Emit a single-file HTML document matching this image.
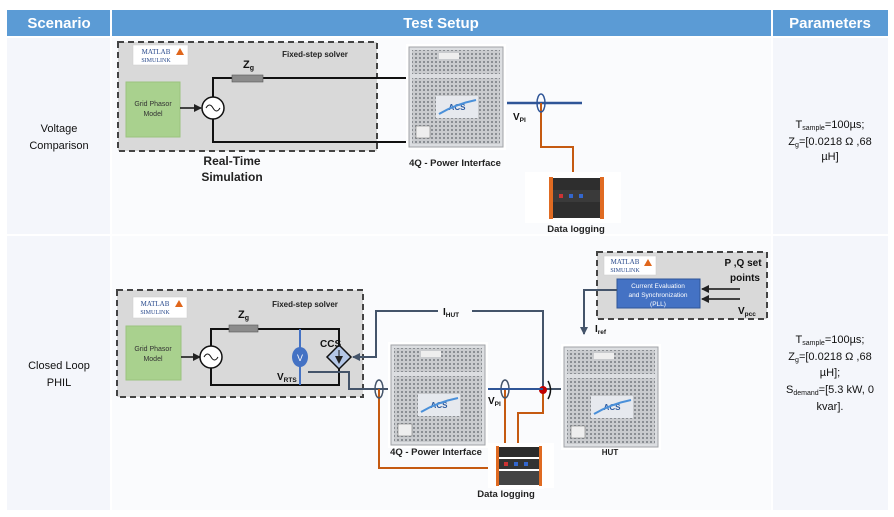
<!DOCTYPE html>
<html><head><meta charset="utf-8"><style>
html,body{margin:0;padding:0;background:#fff;}
svg{display:block;font-family:"Liberation Sans",sans-serif;}
</style></head><body>
<svg width="894" height="517" viewBox="0 0 894 517" xmlns="http://www.w3.org/2000/svg">
<defs>
<pattern id="grill" width="4" height="4" patternUnits="userSpaceOnUse">
<rect width="4" height="4" fill="#c9cbce"/><rect x="1" y="1" width="2" height="2" fill="#8a8e93"/>
</pattern>
<marker id="ar" markerWidth="8" markerHeight="8" refX="7" refY="4" orient="auto" markerUnits="userSpaceOnUse"><path d="M0,0 L8,4 L0,8z" fill="#222"/></marker>
<marker id="arb" markerWidth="8" markerHeight="8" refX="7" refY="4" orient="auto" markerUnits="userSpaceOnUse"><path d="M0,0 L8,4 L0,8z" fill="#44546a"/></marker>
<g id="cab">
<rect x="0" y="0" width="100" height="106" fill="#fff"/>
<rect x="3" y="3" width="94" height="100" fill="#dcdee1" stroke="#a0a3a7"/>
<rect x="6" y="6" width="88" height="24" fill="url(#grill)"/>
<rect x="33" y="9" width="20" height="6" fill="#eee"/>
<rect x="6" y="34" width="88" height="66" fill="url(#grill)"/>
<rect x="30" y="52" width="42" height="22" fill="#e6e9ee"/>
<text x="51" y="66" font-size="8" font-weight="bold" fill="#2a5aa0" text-anchor="middle">ACS</text>
<path d="M33,70 Q50,60 70,56" stroke="#4a90d9" stroke-width="2" fill="none"/>
<rect x="10" y="82" width="14" height="12" fill="#eee" stroke="#666" stroke-width=".5"/>
</g>
<g id="log">
<rect x="0" y="0" width="50" height="46" fill="#fff"/>
<rect x="4" y="4" width="42" height="10" fill="#2b2b2b"/>
<rect x="4" y="16" width="42" height="10" fill="#333"/>
<rect x="10" y="19" width="4" height="4" fill="#c33"/><rect x="20" y="19" width="4" height="4" fill="#36c"/><rect x="30" y="19" width="4" height="4" fill="#36c"/>
<rect x="4" y="28" width="42" height="14" fill="#444"/>
<rect x="2" y="3" width="3" height="40" fill="#e06b22"/><rect x="45" y="3" width="3" height="40" fill="#e06b22"/>
</g>
</defs>

<rect x="7" y="10" width="881" height="26" fill="#5b9bd5"/>
<line x1="111" y1="10" x2="111" y2="36" stroke="#fff" stroke-width="2"/>
<line x1="772" y1="10" x2="772" y2="36" stroke="#fff" stroke-width="2"/>
<text x="59" y="28" font-size="15" font-weight="bold" fill="#fff" text-anchor="middle">Scenario</text>
<text x="441" y="28" font-size="15" font-weight="bold" fill="#fff" text-anchor="middle">Test Setup</text>
<text x="830" y="28" font-size="15" font-weight="bold" fill="#fff" text-anchor="middle">Parameters</text>
<rect x="7" y="38" width="103" height="196" fill="#f4f6fb"/>
<rect x="112" y="38" width="659" height="196" fill="#fafbfd"/>
<rect x="773" y="38" width="115" height="196" fill="#f4f6fb"/>
<rect x="7" y="236" width="103" height="274" fill="#f4f6fb"/>
<rect x="112" y="236" width="659" height="274" fill="#fafbfd"/>
<rect x="773" y="236" width="115" height="274" fill="#f4f6fb"/>

<g font-size="11" fill="#111" text-anchor="middle">
<text x="59" y="132">Voltage</text><text x="59" y="149">Comparison</text>
<text x="59" y="369">Closed Loop</text><text x="59" y="386">PHIL</text>
<text x="830" y="128">T<tspan font-size="7" dy="2">sample</tspan><tspan dy="-2">=100µs;</tspan></text>
<text x="830" y="145">Z<tspan font-size="7" dy="2">g</tspan><tspan dy="-2">=[0.0218 Ω ,68</tspan></text>
<text x="830" y="160">µH]</text>
<text x="830" y="343">T<tspan font-size="7" dy="2">sample</tspan><tspan dy="-2">=100µs;</tspan></text>
<text x="830" y="360">Z<tspan font-size="7" dy="2">g</tspan><tspan dy="-2">=[0.0218 Ω ,68</tspan></text>
<text x="830" y="376">µH];</text>
<text x="830" y="393">S<tspan font-size="7" dy="2">demand</tspan><tspan dy="-2">=[5.3 kW, 0</tspan></text>
<text x="830" y="410">kvar].</text>
</g>

<!-- ROW 1 -->
<rect x="118" y="42" width="259" height="109" fill="#d9d9d9" stroke="#444" stroke-width="2" stroke-dasharray="6,4"/>
<rect x="133" y="45" width="55" height="20" fill="#fff" stroke="#ccc" stroke-width=".5"/>
<text x="156" y="54" font-size="7" fill="#2a4b8d" font-family="Liberation Serif" text-anchor="middle">MATLAB</text>
<text x="156" y="62" font-size="6" fill="#2a4b8d" font-family="Liberation Serif" text-anchor="middle">SIMULINK</text>
<path d="M176,55 l4,-7 l4,7z" fill="#e0661b"/>
<text x="315" y="57" font-size="8" font-weight="bold" fill="#222" text-anchor="middle">Fixed-step solver</text>
<rect x="126" y="82" width="54" height="55" fill="#a9d18e" stroke="#9cc47f"/>
<text x="153" y="106" font-size="7" fill="#333" text-anchor="middle">Grid Phasor</text>
<text x="153" y="116" font-size="7" fill="#333" text-anchor="middle">Model</text>
<line x1="180" y1="108" x2="201" y2="108" stroke="#111" stroke-width="1.5" marker-end="url(#ar)"/>
<path d="M213,97 V78 H406 M213,119 V142 H406" stroke="#111" stroke-width="2" fill="none"/>
<circle cx="213" cy="108" r="11" fill="#fff" stroke="#111" stroke-width="1.5"/>
<path d="M206,108 q3.5,-6 7,0 t7,0" stroke="#111" fill="none"/>
<rect x="232" y="75" width="31" height="7" fill="#8c8c8c" stroke="#555" stroke-width=".6"/>
<text x="243" y="68" font-size="11" font-weight="bold" fill="#111">Z<tspan font-size="7" dy="2">g</tspan></text>
<text x="232" y="165" font-size="12" font-weight="bold" fill="#222" text-anchor="middle">Real-Time</text>
<text x="232" y="181" font-size="12" font-weight="bold" fill="#222" text-anchor="middle">Simulation</text>
<use href="#cab" x="406" y="44"/>
<text x="455" y="166" font-size="9.5" font-weight="bold" fill="#222" text-anchor="middle">4Q - Power Interface</text>
<line x1="507" y1="103" x2="582" y2="103" stroke="#2f5597" stroke-width="2.5"/>
<path d="M541,103 V147 H573 V172" stroke="#c55a11" stroke-width="2" fill="none"/>
<ellipse cx="541" cy="103" rx="4" ry="9" fill="none" stroke="#2f5597" stroke-width="1.5"/>
<text x="513" y="120" font-size="10" font-weight="bold" fill="#111">V<tspan font-size="6.5" dy="2">PI</tspan></text>
<rect x="525" y="172" width="96" height="51" fill="#fff"/>
<rect x="552" y="178" width="50" height="40" fill="#2e2e2e"/>
<rect x="552" y="190" width="50" height="12" fill="#3a3a3a"/>
<rect x="559" y="194" width="4" height="4" fill="#c33"/><rect x="569" y="194" width="4" height="4" fill="#36c"/><rect x="579" y="194" width="4" height="4" fill="#36c"/>
<rect x="549" y="177" width="4" height="42" fill="#e06b22"/><rect x="600" y="177" width="4" height="42" fill="#e06b22"/>
<text x="576" y="232" font-size="9.5" font-weight="bold" fill="#222" text-anchor="middle">Data logging</text>

<!-- ROW 2 -->
<rect x="117" y="290" width="246" height="107" fill="#d9d9d9" stroke="#444" stroke-width="2" stroke-dasharray="6,4"/>
<rect x="133" y="297" width="54" height="21" fill="#fff" stroke="#ccc" stroke-width=".5"/>
<text x="155" y="306" font-size="7" fill="#2a4b8d" font-family="Liberation Serif" text-anchor="middle">MATLAB</text>
<text x="155" y="314" font-size="6" fill="#2a4b8d" font-family="Liberation Serif" text-anchor="middle">SIMULINK</text>
<path d="M175,307 l4,-7 l4,7z" fill="#e0661b"/>
<text x="305" y="307" font-size="8" font-weight="bold" fill="#222" text-anchor="middle">Fixed-step solver</text>
<rect x="126" y="326" width="55" height="54" fill="#a9d18e" stroke="#9cc47f"/>
<text x="153" y="351" font-size="7" fill="#333" text-anchor="middle">Grid Phasor</text>
<text x="153" y="361" font-size="7" fill="#333" text-anchor="middle">Model</text>
<line x1="181" y1="357" x2="200" y2="357" stroke="#111" stroke-width="1.5" marker-end="url(#ar)"/>
<path d="M211,346 V329 H339 V345 M211,368 V385 H339 V369" stroke="#111" stroke-width="2" fill="none"/>
<circle cx="211" cy="357" r="11" fill="#fff" stroke="#111" stroke-width="1.5"/>
<path d="M204,357 q3.5,-6 7,0 t7,0" stroke="#111" fill="none"/>
<rect x="229" y="325" width="29" height="7" fill="#8c8c8c" stroke="#555" stroke-width=".6"/>
<text x="238" y="318" font-size="11" font-weight="bold" fill="#111">Z<tspan font-size="7" dy="2">g</tspan></text>
<line x1="300" y1="329" x2="300" y2="385" stroke="#4472c4" stroke-width="2"/>
<ellipse cx="300" cy="357" rx="8" ry="10" fill="#4472c4"/>
<text x="300" y="361" font-size="9" fill="#fff" text-anchor="middle">V</text>
<path d="M339,345 L351,357 L339,369 L327,357z" fill="#b4c7e7" stroke="#111" stroke-width="1.5"/>
<line x1="339" y1="350" x2="339" y2="363" stroke="#111" marker-end="url(#ar)"/>
<text x="320" y="347" font-size="10" font-weight="bold" fill="#111">CCS</text>
<text x="277" y="380" font-size="10" font-weight="bold" fill="#111">V<tspan font-size="6.5" dy="2">RTS</tspan></text>
<path d="M308,372 H349 V389 H390 M486,389 H563" stroke="#44546a" stroke-width="2" fill="none"/>
<path d="M543,389 V311 H376 V357 H353" stroke="#44546a" stroke-width="2" fill="none" marker-end="url(#arb)"/>
<rect x="438" y="304" width="34" height="14" fill="#fafbfd"/>
<text x="443" y="315" font-size="10" font-weight="bold" fill="#111">I<tspan font-size="6.5" dy="2">HUT</tspan></text>
<path d="M379,389 V468 H494 M505,389 V462 M543,389 V413 H518 V446" stroke="#c55a11" stroke-width="2" fill="none"/>
<ellipse cx="379" cy="389" rx="4" ry="9" fill="none" stroke="#44546a" stroke-width="1.5"/>
<ellipse cx="505" cy="389" rx="4" ry="9" fill="none" stroke="#44546a" stroke-width="1.5"/>
<circle cx="543" cy="390" r="4" fill="#c00000"/>
<path d="M548,381 q5,9 0,18" stroke="#111" stroke-width="1.5" fill="none"/>
<line x1="486" y1="389" x2="543" y2="389" stroke="#2f5597" stroke-width="2"/>
<text x="488" y="404" font-size="10" font-weight="bold" fill="#111">V<tspan font-size="6.5" dy="2">PI</tspan></text>
<use href="#cab" x="388" y="342"/>
<use href="#cab" x="561" y="344"/>
<text x="610" y="455" font-size="8" font-weight="bold" fill="#222" text-anchor="middle">HUT</text>
<rect x="488" y="443" width="66" height="45" fill="#fff"/>
<use href="#log" x="494" y="443"/>
<text x="436" y="455" font-size="9.5" font-weight="bold" fill="#222" text-anchor="middle">4Q - Power Interface</text>
<text x="506" y="497" font-size="9.5" font-weight="bold" fill="#222" text-anchor="middle">Data logging</text>

<rect x="597" y="252" width="170" height="67" fill="#d9d9d9" stroke="#444" stroke-width="2" stroke-dasharray="6,4"/>
<rect x="604" y="256" width="52" height="19" fill="#fff" stroke="#ccc" stroke-width=".5"/>
<text x="625" y="264" font-size="7" fill="#2a4b8d" font-family="Liberation Serif" text-anchor="middle">MATLAB</text>
<text x="625" y="272" font-size="6" fill="#2a4b8d" font-family="Liberation Serif" text-anchor="middle">SIMULINK</text>
<path d="M644,266 l4,-7 l4,7z" fill="#e0661b"/>
<rect x="617" y="279" width="83" height="29" fill="#4472c4" stroke="#2f5597"/>
<text x="658" y="288" font-size="6.5" fill="#fff" text-anchor="middle">Current Evaluation</text>
<text x="658" y="297" font-size="6.5" fill="#fff" text-anchor="middle">and Synchronization</text>
<text x="658" y="306" font-size="6.5" fill="#fff" text-anchor="middle">(PLL)</text>
<text x="743" y="266" font-size="10" font-weight="bold" fill="#111" text-anchor="middle">P ,Q set</text>
<text x="745" y="281" font-size="10" font-weight="bold" fill="#111" text-anchor="middle">points</text>
<line x1="740" y1="289" x2="702" y2="289" stroke="#111" stroke-width="1.5" marker-end="url(#ar)"/>
<line x1="740" y1="299" x2="702" y2="299" stroke="#111" stroke-width="1.5" marker-end="url(#ar)"/>
<text x="738" y="314" font-size="10" font-weight="bold" fill="#111">V<tspan font-size="6.5" dy="2">pcc</tspan></text>
<path d="M617,290 H584 V334" stroke="#44546a" stroke-width="2" fill="none" marker-end="url(#arb)"/>
<text x="595" y="332" font-size="10" font-weight="bold" fill="#111">I<tspan font-size="6.5" dy="2">ref</tspan></text>
</svg>
</body></html>
